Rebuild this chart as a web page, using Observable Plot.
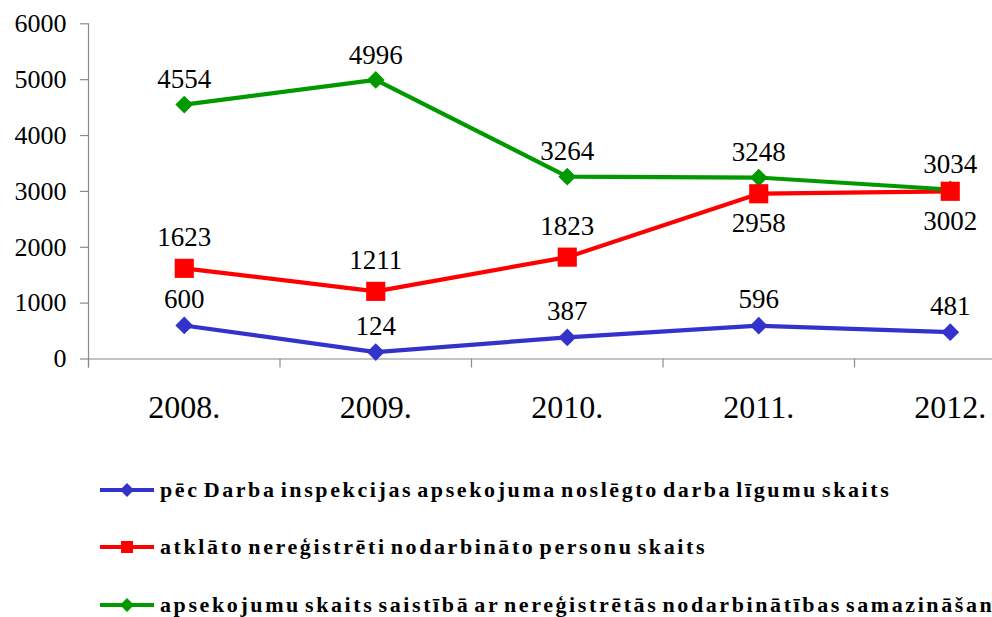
<!DOCTYPE html>
<html>
<head>
<meta charset="utf-8">
<script src="https://cdn.jsdelivr.net/npm/d3@7"></script>
<script src="https://cdn.jsdelivr.net/npm/@observablehq/plot@0.6"></script>
<style>
  html, body { margin: 0; padding: 0; background: #fff; width: 992px; height: 617px; overflow: hidden; }
  #chart { position: absolute; left: 0; top: 0; }
  #chart svg, #chart svg text { font-family: "Liberation Serif", "Times New Roman", serif; }
  #legend { position: absolute; left: 0; top: 440px; width: 992px; font-family: "Liberation Serif", "Times New Roman", serif; font-weight: bold; font-size: 22px; color: #000; white-space: nowrap; }
  .row { position: absolute; left: 100px; height: 30px; display: flex; align-items: center; }
  .row svg { flex: none; }
  .row span { margin-left: 6px; letter-spacing: 2.6px; word-spacing: -4px; }
</style>
</head>
<body>
<div id="chart"></div>
<div id="legend"></div>
<script>
const years = ["2008.", "2009.", "2010.", "2011.", "2012."];
const contracts = [600, 124, 387, 596, 481];
const unregistered = [1623, 1211, 1823, 2958, 3002];
const inspections = [4554, 4996, 3264, 3248, 3034];
const seriesNames = [
  "pēc Darba inspekcijas apsekojuma noslēgto darba līgumu skaits",
  "atklāto nereģistrēti nodarbināto personu skaits",
  "apsekojumu skaits saistībā ar nereģistrētās nodarbinātības samazināšanu"
];
const seriesColors = ["#3333CC", "#FF0000", "#009900"];
const yTicks = [0, 1000, 2000, 3000, 4000, 5000, 6000];

const seriesValues = [contracts, unregistered, inspections];
const rows = [];
seriesValues.forEach((vals, s) => vals.forEach((v, i) => rows.push({i, year: years[i], value: v, series: seriesNames[s], s})));

const xDomain = [-0.5, years.length - 0.5];
const boundaries = d3.range(years.length + 1).map(k => k - 0.5);
const centers = years.map((_, i) => i);
const step = 191.5;

// red labels for 2011–2012 are placed below (they collide with green)
const isBelow = d => d.s === 1 && d.i >= 3;
const aboveOffset = [-26, -31, -25];

const plot = Plot.plot({
  width: 992,
  height: 440,
  marginTop: 23.3,
  marginBottom: 81.5,
  marginLeft: 88,
  marginRight: 0,
  style: {fontFamily: "'Liberation Serif', 'Times New Roman', serif", background: "white", color: "black"},
  x: {type: "linear", domain: xDomain, range: [88, 88 + years.length * step]},
  y: {domain: [yTicks[0], yTicks[yTicks.length - 1]]},
  color: {domain: seriesNames, range: seriesColors},
  marks: [
    Plot.ruleY([0], {stroke: "#8a8a8a", strokeWidth: 1.2}),
    Plot.ruleX([xDomain[0]], {stroke: "#8a8a8a", strokeWidth: 1.2, insetBottom: -9}),
    Plot.axisY(yTicks, {tickSize: 8, tickFormat: () => "", label: null, stroke: "#8a8a8a", strokeWidth: 1.2}),
    Plot.axisY(yTicks, {tickSize: 0, tickPadding: 22, fontSize: 26, label: null, tickFormat: d => String(d)}),
    Plot.axisX(boundaries, {tickSize: 9, tickFormat: () => "", label: null, stroke: "#8a8a8a", strokeWidth: 1.2}),
    Plot.axisX(centers, {tickSize: 0, tickPadding: 36, fontSize: 32, label: null, tickFormat: i => years[i]}),
    Plot.line(rows, {x: "i", y: "value", z: "series", stroke: "series", strokeWidth: 4.2}),
    Plot.dot(rows.filter(d => d.s !== 1), {x: "i", y: "value", symbol: "diamond2", r: 8, fill: "series", stroke: null}),
    Plot.dot(rows.filter(d => d.s === 1), {x: "i", y: "value", symbol: "square", r: 10.8, fill: "series", stroke: null}),
    ...[0, 1, 2].map(s => Plot.text(rows.filter(d => d.s === s && !isBelow(d)), {x: "i", y: "value", text: d => String(d.value), dy: aboveOffset[s], fontSize: 27, fill: "black"})),
    Plot.text(rows.filter(isBelow), {x: "i", y: "value", text: d => String(d.value), dy: 30, fontSize: 27, fill: "black"})
  ]
});
document.getElementById("chart").appendChild(plot);

// legend
const legend = d3.select("#legend");
const rowTops = [35, 92, 150];
seriesNames.forEach((name, s) => {
  const row = legend.append("div").attr("class", "row").style("top", rowTops[s] + "px");
  const svg = row.append("svg").attr("width", 54).attr("height", 30);
  svg.append("line").attr("x1", 0).attr("x2", 54).attr("y1", 15).attr("y2", 15)
    .attr("stroke", seriesColors[s]).attr("stroke-width", 4);
  if (s === 1) {
    svg.append("rect").attr("x", 21).attr("y", 9).attr("width", 12).attr("height", 12).attr("fill", seriesColors[s]);
  } else {
    svg.append("path").attr("d", "M27,8 L34,15 L27,22 L20,15 Z").attr("fill", seriesColors[s]);
  }
  row.append("span").text(name);
});
</script>
</body>
</html>
